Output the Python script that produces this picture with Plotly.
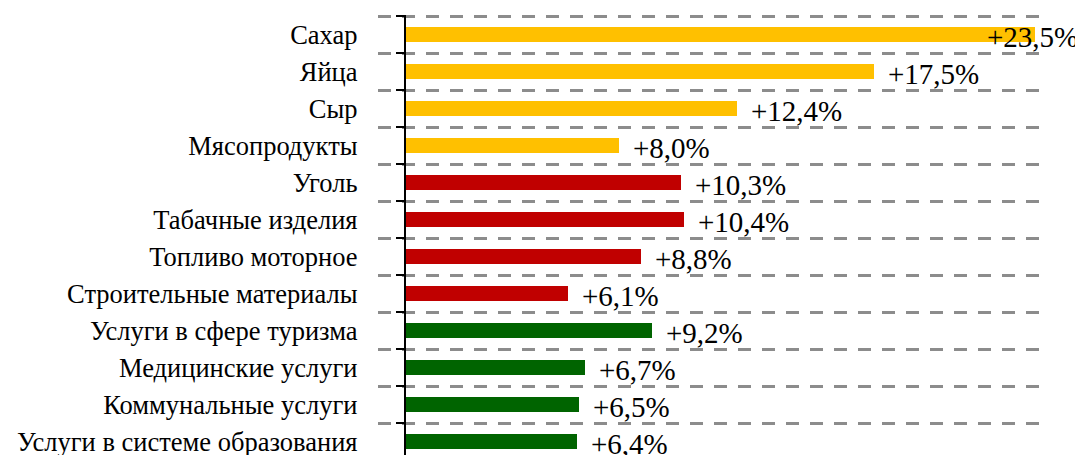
import plotly.graph_objects as go

categories = ["Сахар", "Яйца", "Сыр", "Мясопродукты", "Уголь", "Табачные изделия",
              "Топливо моторное", "Строительные материалы", "Услуги в сфере туризма",
              "Медицинские услуги", "Коммунальные услуги", "Услуги в системе образования"]
values = [23.5, 17.5, 12.4, 8.0, 10.3, 10.4, 8.8, 6.1, 9.2, 6.7, 6.5, 6.4]
groups = ["food"] * 4 + ["goods"] * 4 + ["services"] * 4
group_colors = {"food": "#FFC000", "goods": "#C00000", "services": "#006400"}

labels = ["+" + f"{v:.1f}".replace(".", ",") + "%" for v in values]
colors = [group_colors[g] for g in groups]

fig = go.Figure()
fig.add_trace(go.Bar(
    y=categories, x=values, orientation="h",
    marker=dict(color=colors, line=dict(width=0)),
    width=0.39, showlegend=False, hoverinfo="skip",
))

xmin, xmax = -1.0, 24.05
lab_font = dict(family="Liberation Serif", size=29, color="black")
for cat, v, lab in zip(categories, values, labels):
    if v > 20:
        fig.add_annotation(x=1, xref="paper", y=cat, yref="y", text=lab,
                           showarrow=False, xanchor="right", xshift=30, yshift=-2,
                           font=lab_font)
    else:
        fig.add_annotation(x=v, xref="x", y=cat, yref="y", text=lab,
                           showarrow=False, xanchor="left", xshift=12, yshift=-2,
                           font=lab_font)

fig.update_layout(
    width=1075, height=447,
    margin=dict(l=370, r=33, t=7, b=0, autoexpand=False),
    plot_bgcolor="white", paper_bgcolor="white",
    bargap=0,
    xaxis=dict(range=[xmin, xmax], showgrid=False, zeroline=False, showticklabels=False,
               showline=False, ticks="", automargin=False),
    yaxis=dict(categoryorder="array", categoryarray=categories,
               range=[11.365, -0.53], tickson="boundaries", automargin=False,
               showgrid=True, gridcolor="#8c8c8c", gridwidth=3, griddash="13px,11px",
               anchor="free", position=(0 - xmin) / (xmax - xmin),
               showline=True, linecolor="black", linewidth=2,
               ticks="outside", ticklen=8, tickcolor="black", tickwidth=2,
               ticklabelstandoff=41,
               tickfont=dict(family="Liberation Serif", size=26.5, color="black"),
               zeroline=False),
)

fig.write_html("out.html")
